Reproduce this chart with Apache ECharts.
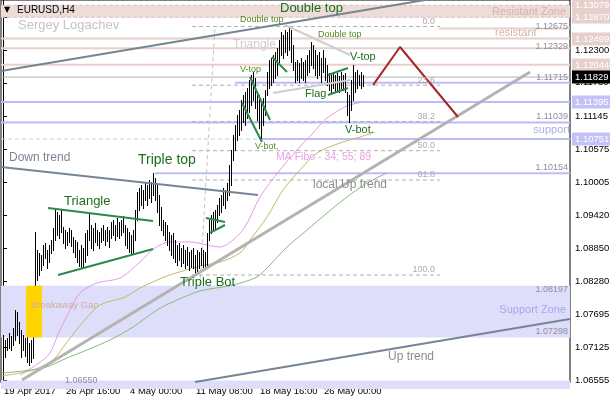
<!DOCTYPE html>
<html><head><meta charset="utf-8">
<script src="https://cdn.jsdelivr.net/npm/echarts@6/dist/echarts.min.js"></script>
<style>html,body{margin:0;padding:0;background:#fff}#c{width:610px;height:400px}</style>
</head><body><div id="c"></div>
<script>
// ---------------- data ----------------
const barHigh = [
1.07341,1.07254,1.07289,1.07376,1.07324,1.07463,1.07776,1.07741,1.07567,1.07428,
1.07341,1.07289,1.07341,1.07202,1.07254,1.07306,1.09133,1.08820,1.08768,1.08733,
1.08907,1.08942,1.08820,1.08907,1.08994,1.09203,1.09516,1.09481,1.09429,1.09516,
1.09220,1.09168,1.09133,1.09203,1.09168,1.09046,1.08994,1.08959,1.08820,1.08907,
1.08855,1.09116,1.09168,1.09464,1.09255,1.09203,1.09290,1.09168,1.09133,1.09203,
1.09255,1.09168,1.09220,1.09168,1.09307,1.09342,1.09255,1.09377,1.09307,1.09342,
1.09412,1.09255,1.09203,1.09133,1.09081,1.09168,1.09516,1.09829,1.09899,1.09951,
1.09864,1.09986,1.09951,1.10038,1.10003,1.10160,1.10073,1.09951,1.09777,1.09568,
1.09342,1.09307,1.09255,1.09133,1.09081,1.09116,1.08994,1.08907,1.08942,1.08855,
1.08907,1.08820,1.08872,1.08785,1.08820,1.08855,1.08733,1.08820,1.08785,1.08855,
1.08820,1.08785,1.09116,1.09342,1.09429,1.09481,1.09516,1.09603,1.09725,1.09777,
1.09899,1.09864,1.09986,1.10299,1.10560,1.10821,1.10995,1.11169,1.11256,1.11430,
1.11517,1.11569,1.11639,1.11778,1.11865,1.11917,1.11813,1.11569,1.11517,1.11430,
1.11465,1.11604,1.11917,1.12126,1.12161,1.12213,1.12265,1.12335,1.12474,1.12613,
1.12561,1.12648,1.12613,1.12683,1.12648,1.12387,1.12091,1.12126,1.12074,1.12161,
1.12091,1.12126,1.12213,1.12300,1.12439,1.12387,1.12300,1.12213,1.12265,1.12161,
1.12300,1.12161,1.12039,1.11900,1.11865,1.11917,1.11865,1.11900,1.11848,1.11917,
1.11865,1.11900,1.11569,1.11517,1.11778,1.12039,1.11917,1.11952,1.11865,1.11917,
1.11865];
const barLow = [
1.07045,1.06958,1.07080,1.07115,1.07080,1.07167,1.07254,1.07341,1.07202,1.06958,
1.07080,1.06976,1.06871,1.06819,1.06871,1.06941,1.08089,1.08298,1.08385,1.08472,
1.08559,1.08681,1.08507,1.08611,1.08768,1.08820,1.08994,1.09081,1.09029,1.09133,
1.08942,1.08855,1.08907,1.08959,1.08890,1.08785,1.08698,1.08611,1.08542,1.08507,
1.08542,1.08611,1.08733,1.08994,1.08855,1.08820,1.08959,1.08907,1.08855,1.08959,
1.08994,1.08907,1.08977,1.08872,1.09029,1.09081,1.08994,1.09064,1.09029,1.09081,
1.09133,1.08907,1.08855,1.08785,1.08768,1.08750,1.08994,1.09342,1.09516,1.09603,
1.09551,1.09690,1.09603,1.09725,1.09655,1.09777,1.09690,1.09481,1.09255,1.09168,
1.09081,1.08994,1.08907,1.08820,1.08733,1.08681,1.08611,1.08559,1.08646,1.08542,
1.08594,1.08507,1.08559,1.08472,1.08524,1.08507,1.08385,1.08437,1.08507,1.08559,
1.08524,1.08507,1.08524,1.08994,1.09116,1.09168,1.09203,1.09307,1.09429,1.09481,
1.09603,1.09551,1.09690,1.09777,1.09951,1.10386,1.10560,1.10734,1.10821,1.10908,
1.11047,1.10995,1.11117,1.11221,1.11343,1.11430,1.11291,1.11082,1.10943,1.10769,
1.10995,1.11169,1.11517,1.11639,1.11691,1.11743,1.11813,1.11865,1.12091,1.12213,
1.12161,1.12265,1.12213,1.12300,1.12091,1.11952,1.11743,1.11778,1.11743,1.11813,
1.11778,1.11743,1.11865,1.11917,1.12039,1.11987,1.11865,1.11813,1.11865,1.11743,
1.11917,1.11778,1.11691,1.11604,1.11569,1.11639,1.11569,1.11604,1.11569,1.11639,
1.11604,1.11569,1.11169,1.11047,1.11256,1.11430,1.11569,1.11639,1.11691,1.11639,
1.11674];

const timeTickIdx = [0, 31, 63, 96, 128, 160];
const timeTickLabels = ['19 Apr 2017', '26 Apr 16:00', '4 May 00:00', '11 May 08:00', '18 May 16:00', '26 May 00:00'];
const priceTicks = [1.12870, 1.12300, 1.11730, 1.11145, 1.10575, 1.10005, 1.09420, 1.08850, 1.08280, 1.07695, 1.07125, 1.06555];
const pinkTags = [1.13079, 1.12870, 1.12499, 1.12044];
const lavenderTags = [1.11395, 1.10751];
const lastPrice = 1.11829;

// moving averages: [bar index, price]
const ma34 = [[8.5,1.06645],[15,1.06784],[20,1.06906],[23.5,1.07028],[28.5,1.07428],[33.5,1.07776],[38.5,1.08072],[47,1.08246],[58.5,1.08333],[68.5,1.08611],[76,1.08855],[83.5,1.08959],[93.5,1.08959],[102,1.08907],[108.5,1.08872],[115,1.08994],[121,1.09220],[128.5,1.09742],[138.5,1.10212],[147,1.10560],[155,1.10856],[162,1.11117],[172,1.11326],[180,1.11395]];
const ma55 = [[-0.5,1.06628],[15,1.06732],[25,1.06906],[32,1.07220],[40,1.07567],[48.5,1.07863],[61,1.08002],[68.5,1.08159],[82,1.08368],[90,1.08455],[98.5,1.08542],[108.5,1.08611],[118.5,1.08768],[123.5,1.08994],[132,1.09394],[140,1.09864],[148.5,1.10212],[157,1.10508],[168.5,1.10682],[178.5,1.10786],[186,1.10873]];
const ma89 = [[-0.5,1.06680],[20,1.06767],[32,1.06941],[42,1.07080],[53.5,1.07254],[65,1.07480],[77,1.07776],[87,1.07950],[98.5,1.08107],[115,1.08211],[127,1.08350],[132,1.08507],[142,1.08872],[152,1.09168],[162,1.09464],[172,1.09742],[182,1.09986],[192,1.10160]];

// drawn objects in chart coordinates [bar index, price]
const channelTop = [[-1, 1.11935], [211, 1.13170]];
const downTrend = [[-1, 1.10264], [127.5, 1.09777]];
const upTrend = [[96, 1.06523], [283.5, 1.07619]];
const localUpTrend = [[9.5, 1.06558], [263.5, 1.11917]];
const greenLines = [
  [[22.5, 1.09551], [75, 1.09325]],
  [[27.5, 1.08385], [75, 1.08837]],
  [[101.5, 1.09377], [111, 1.09307]],
  [[103.5, 1.09116], [111, 1.09255]],
  [[123.5, 1.11830], [133.5, 1.11082]],
  [[119.5, 1.11378], [129.5, 1.10699]],
  [[134.5, 1.12178], [142, 1.11917]],
  [[162.5, 1.11865], [172.5, 1.11987]],
  [[162.5, 1.11517], [172.5, 1.11639]]
];
const greyTriangle = [
  [[141, 1.12735], [173.5, 1.12213]],
  [[135, 1.11552], [173.5, 1.11778]]
];
const projection = [[185, 1.11690], [198.5, 1.12352], [227.5, 1.11134]];
const fibLevels = [1.12709, 1.11688, 1.11056, 1.10548, 1.10038, 1.08385];
const fibNames = ['0.0', '23.6', '38.2', '50.0', '61.8', '100.0'];
const fibSpan = [94.5, 218.5];
const fibDiagonal = [[98.5, 1.08211], [106, 1.12709]];

const resistZone = [1.13079, 1.12870];
const supportZone = [1.08197, 1.07298];
const bottomZone = [1.06550, 1.06400];
const gapSpan = [11.5, 19.5];
const pinkLevels = [1.12499, 1.12329, 1.12044];
const pinkShort = [1.12675, 218];
const lavenderLevels = [1.11395, 1.11039];
const lavenderFrom = [[1.11730, 116], [1.10154, 76]];
const supportLine = [1.10751, 128];

const notes = [
  ['Sergey Logachev', 7.5, 1.12735, 'author', 'left'],
  ['Double top', 138.5, 1.13031, 'greenBig', 'left'],
  ['Double top', 118.5, 1.12822, 'greenSmall', 'left'],
  ['Double top', 157.5, 1.12561, 'greenSmall', 'left'],
  ['Triangle', 115, 1.12387, 'ghost', 'left'],
  ['V-top', 118.5, 1.11952, 'greenSmall', 'left'],
  ['V-top', 173.5, 1.12178, 'greenMid', 'left'],
  ['Flag', 151, 1.11534, 'greenMid', 'left'],
  ['V-bot.', 126, 1.10612, 'greenSmall', 'left'],
  ['V-bot.', 171, 1.10908, 'greenMid', 'left'],
  ['MA Fibo - 34; 55; 89', 136.5, 1.10438, 'ma', 'left'],
  ['Down trend', 3, 1.10421, 'trend', 'left'],
  ['Triple top', 67.5, 1.10386, 'greenHuge', 'left'],
  ['Triangle', 30.5, 1.09660, 'greenBig', 'left'],
  ['local Up trend', 155, 1.09951, 'trend2', 'left'],
  ['Triple Bot', 88.5, 1.08263, 'greenBig', 'left'],
  ['Breakaway Gap', 14, 1.07863, 'gap', 'left'],
  ['Support Zone', 281.5, 1.07776, 'supp', 'right'],
  ['Up trend', 192.5, 1.06958, 'trend2', 'left'],
  ['Resistant Zone', 281.5, 1.12961, 'resist', 'right'],
  ['resistant', 246, 1.12596, 'resist', 'left'],
  ['support', 283.5, 1.10908, 'supp2', 'right'],
  ['1.12675', 282.5, 1.12700, 'price', 'right'],
  ['1.12329', 282.5, 1.12352, 'price', 'right'],
  ['1.11715', 282.5, 1.11813, 'price', 'right'],
  ['1.11039', 282.5, 1.11134, 'price', 'right'],
  ['1.10154', 282.5, 1.10247, 'price', 'right'],
  ['1.08197', 282.5, 1.08124, 'price', 'right'],
  ['1.07298', 282.5, 1.07393, 'price', 'right'],
  ['1.06550', 31, 1.06541, 'price', 'left']
];

// ---------------- styles ----------------
const T = 'Liberation Sans, Arial, sans-serif';
const AX = 9.5;
const noteStyle = {
  author: ['13px ' + T, '#c4c4c4'],
  greenHuge: ['14px ' + T, '#1e6e1e'],
  greenBig: ['13px ' + T, '#1e6e1e'],
  greenMid: ['11px ' + T, '#1e6e1e'],
  greenSmall: ['9px ' + T, '#4f8a22'],
  ghost: ['12px ' + T, '#cdcdcd'],
  ma: ['10.5px ' + T, '#e6a2e6'],
  trend: ['12px ' + T, '#7e8290'],
  trend2: ['12px ' + T, '#8c8c8c'],
  gap: ['9.5px ' + T, '#cfada3'],
  supp: ['11px ' + T, '#a6a6ee'],
  supp2: ['11px ' + T, '#acacea'],
  resist: ['11px ' + T, '#d3b5ab'],
  price: ['9px ' + T, '#8c8ca2'],
  fib: ['9px ' + T, '#ababab']
};

const X0 = -1, X1 = 283.5;
function seg(pts, color, width, type, z) {
  return { type: 'line', data: pts, showSymbol: false, symbol: 'none', silent: true, z: z || 3,
    lineStyle: { color: color, width: width, type: type || 'solid' }, animation: false };
}
function rects(list, color, z) {
  return { type: 'custom', silent: true, z: z || 1, data: list,
    renderItem: function (p, api) {
      const a = api.coord([api.value(0), api.value(2)]);
      const b = api.coord([api.value(1), api.value(3)]);
      return { type: 'rect', shape: { x: a[0], y: a[1], width: b[0] - a[0], height: b[1] - a[1] }, style: { fill: color } };
    } };
}

const series = [];
series.push(rects([[X0, X1, resistZone[0], resistZone[1]]], '#eddcd8', 1));
series.push(rects([[X0, X1, supportZone[0], supportZone[1]], [X0, X1, bottomZone[0], bottomZone[1]]], '#dedefa', 1));
series.push(seg([[X0, resistZone[0]], [X1, resistZone[0]]], '#d9c2bd', 1, 'dashed', 2));
series.push(seg([[X0, resistZone[1]], [X1, resistZone[1]]], '#d9c2bd', 1, 'dashed', 2));
pinkLevels.forEach(v => series.push(seg([[X0, v], [X1, v]], '#e8d0cb', 2, 'solid', 2)));
series.push(seg([[pinkShort[1], pinkShort[0]], [X1, pinkShort[0]]], '#e8d0cb', 2, 'solid', 2));
lavenderLevels.forEach(v => series.push(seg([[X0, v], [X1, v]], '#bcbcf6', 2, 'solid', 2)));
lavenderFrom.forEach(a => series.push(seg([[a[1], a[0]], [X1, a[0]]], '#bcbcf6', 2, 'solid', 2)));
series.push(seg([[X0, supportLine[0]], [supportLine[1], supportLine[0]]], '#c8c8f4', 1, [4, 3], 2));
series.push(seg([[supportLine[1], supportLine[0]], [X1, supportLine[0]]], '#bcbcf6', 2, 'solid', 2));
series.push(seg([[X0, lastPrice], [X1, lastPrice]], '#b4b4b4', 1, 'solid', 2));
fibLevels.forEach(v => series.push(seg([[fibSpan[0], v], [fibSpan[1], v]], '#b0b0b0', 1, [4, 3], 2)));
series.push(seg(fibDiagonal, '#c4c4c4', 1, [4, 3], 2));
series.push(Object.assign(seg(ma34, '#e39be3', 1, 'solid', 3), { smooth: 0.3 }));
series.push(Object.assign(seg(ma55, '#c6b865', 1, 'solid', 3), { smooth: 0.3 }));
series.push(Object.assign(seg(ma89, '#86bb7e', 1, 'solid', 3), { smooth: 0.3 }));
series.push({ type: 'custom', silent: true, z: 5,
  data: barHigh.map((h, i) => [i, barLow[i], h]),
  encode: { x: 0, y: [1, 2] },
  renderItem: function (p, api) {
    const lo = api.coord([api.value(0), api.value(1)]);
    const hi = api.coord([api.value(0), api.value(2)]);
    const x = Math.round(lo[0]) + 0.5;
    return { type: 'line', shape: { x1: x, y1: Math.round(lo[1]) + 1, x2: x, y2: Math.round(hi[1]) }, style: { stroke: '#000', lineWidth: 1 } };
  } });
series.push(rects([[gapSpan[0], gapSpan[1], supportZone[0], supportZone[1]]], '#ffd400', 6));
series.push(seg(localUpTrend, '#b3b3b3', 3, 'solid', 6));
series.push(seg(channelTop, '#778593', 2, 'solid', 6));
series.push(seg(downTrend, '#778593', 2, 'solid', 6));
series.push(seg(upTrend, '#778593', 2, 'solid', 6));
greyTriangle.forEach(l => series.push(seg(l, '#cfcfcf', 2, 'solid', 6)));
greenLines.forEach(l => series.push(seg(l, '#2a8a4a', 2, 'solid', 7)));
series.push(seg(projection, '#a8262a', 2, 'solid', 7));

const chart = echarts.init(document.getElementById('c'), null, { renderer: 'canvas' });
chart.setOption({
  animation: false,
  backgroundColor: '#fff',
  grid: { left: 1, right: 40, top: 0, bottom: 18, containLabel: false, outerBoundsMode: 'none',
    show: true, borderColor: '#000', borderWidth: 1, backgroundColor: '#fff' },
  xAxis: {
    type: 'value', min: X0, max: X1, splitLine: { show: false },
    axisLine: { lineStyle: { color: '#000', width: 1 } },
    axisTick: { customValues: timeTickIdx, length: 4, lineStyle: { color: '#000' } },
    axisLabel: { customValues: timeTickIdx, color: '#000', fontFamily: T, fontSize: AX, align: 'left', margin: 4,
      padding: [0, 0, 0, 1], hideOverlap: false,
      formatter: v => timeTickLabels[timeTickIdx.indexOf(v)] || '' }
  },
  yAxis: {
    type: 'value', position: 'right', min: 1.065232, max: 1.13170, splitLine: { show: false },
    axisLine: { lineStyle: { color: '#000', width: 1 } },
    axisTick: { customValues: priceTicks, length: 4, lineStyle: { color: '#000' } },
    axisLabel: { customValues: priceTicks, margin: 5, color: '#000', fontFamily: T, fontSize: AX, hideOverlap: false,
      formatter: v => v.toFixed(5) }
  },
  series: series
});

const graphics = [
  { type: 'text', x: 4, y: 10, z: 100, style: { text: '\u25BC', font: '8px DejaVu Sans', fill: '#000', verticalAlign: 'middle' } },
  { type: 'text', x: 17, y: 10, z: 100, style: { text: 'EURUSD,H4', font: '10px ' + T, fill: '#000', verticalAlign: 'middle' } }
];
// price tags on the axis
function tag(v, bg, fg) {
  const p = chart.convertToPixel({ gridIndex: 0 }, [X1, v]);
  graphics.push({ type: 'rect', x: p[0] + 2, y: Math.round(p[1]) - 6.5, z: 110, silent: true,
    shape: { width: 40, height: 13 }, style: { fill: bg } });
  graphics.push({ type: 'text', x: p[0] + 5, y: Math.round(p[1]), z: 111, silent: true,
    style: { text: v.toFixed(5), font: AX + 'px ' + T, fill: fg, verticalAlign: 'middle' } });
}
pinkTags.forEach(v => tag(v, '#e6d0cb', '#fff'));
lavenderTags.forEach(v => tag(v, '#c2c2f7', '#fff'));
tag(lastPrice, '#000', '#fff');

notes.forEach(n => {
  const p = chart.convertToPixel({ gridIndex: 0 }, [n[1], n[2]]);
  const st = noteStyle[n[3]];
  graphics.push({ type: 'text', x: p[0], y: p[1], z: 100, silent: true,
    style: { text: n[0], font: st[0], fill: st[1], align: n[4], verticalAlign: 'middle' } });
});
fibLevels.forEach((v, i) => {
  const p = chart.convertToPixel({ gridIndex: 0 }, [fibSpan[1] - 2.5, v]);
  graphics.push({ type: 'text', x: p[0], y: p[1] - 5, z: 100, silent: true,
    style: { text: fibNames[i], font: noteStyle.fib[0], fill: noteStyle.fib[1], align: 'right', verticalAlign: 'middle' } });
});
chart.setOption({ graphic: graphics });
</script></body></html>
